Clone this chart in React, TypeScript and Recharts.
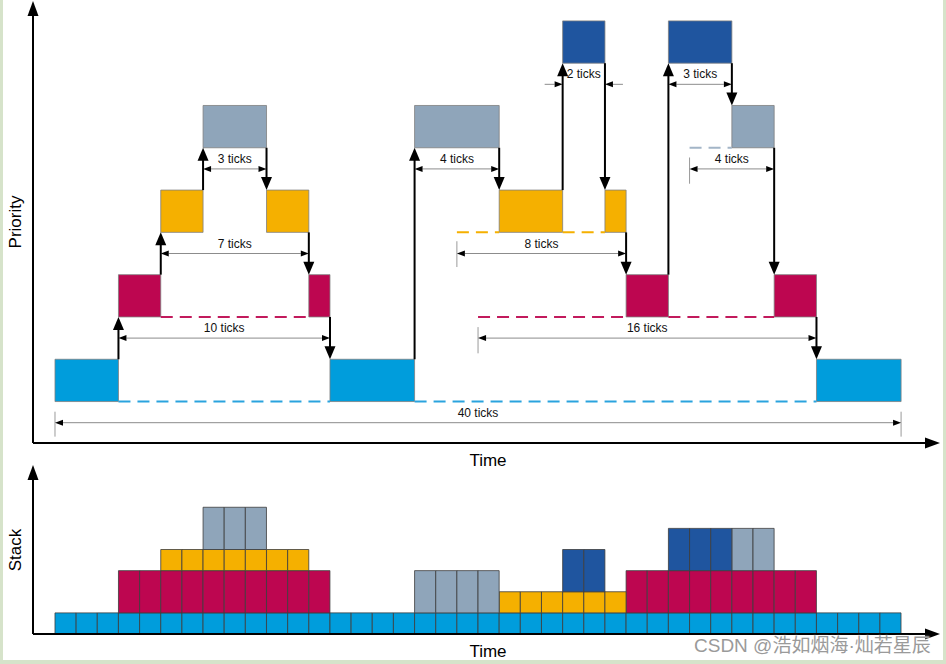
import React from 'react';
import { ComposedChart, XAxis, YAxis, ReferenceArea, ReferenceLine, Bar } from 'recharts';

// ---------- data ----------
const taskColors = ['#009ddc', '#bd0650', '#f5b000', '#8fa5ba', '#1f559f'];
const waitColors = ['#2aa3de', '#c21a5c', '#f5b000', '#a3b5c7', '#1f559f'];

// run intervals [start, end] in ticks, per task (priority level 0..4)
const blueRuns = [[0, 3], [13, 17], [36, 40]];
const redRuns = [[3, 5], [12, 13], [27, 29], [34, 36]];
const yellowRuns = [[5, 7], [10, 12], [21, 24], [26, 27]];
const grayRuns = [[7, 10], [17, 21], [32, 34]];
const darkRuns = [[24, 26], [29, 32]];

// preempted (dashed) intervals
const blueWait = [[3, 13], [17, 36]];
const redWait = [[5, 12], [20, 27], [29, 34]];
const yellowWait = [[19, 21], [24, 26]];
const grayWait = [[30, 32]];
const darkWait: number[][] = [];

// context switches
const switchTicks = [3, 5, 7, 10, 12, 13, 17, 21, 24, 26, 27, 29, 32, 34, 36];
const switchFrom = [0, 1, 2, 3, 2, 1, 0, 3, 2, 4, 2, 1, 4, 3, 1];
const switchTo = [1, 2, 3, 2, 1, 0, 3, 2, 4, 2, 1, 4, 3, 1, 0];

// tick span annotations
const spanLabels = ['3 ticks', '7 ticks', '10 ticks', '40 ticks', '4 ticks', '8 ticks', '16 ticks', '2 ticks', '3 ticks', '4 ticks'];
const spanFrom = [7, 5, 3, 0, 17, 19, 20, 24, 29, 30];
const spanTo = [10, 12, 13, 40, 21, 27, 36, 26, 32, 34];
const spanLevel = [5.5, 3.5, 1.5, -0.5, 5.5, 3.5, 1.5, 7.5, 7.5, 5.5];
const spanInward = [false, false, false, false, false, false, false, true, false, false];

// extension lines
const extX = [0, 40, 20, 19, 30];
const extTop = [-0.24, -0.24, 1.76, 3.79, 5.77];
const extBottom = [-0.83, -0.83, 1.14, 3.18, 5.15];

// stack chart (per tick 0..39)
const stackTicks = [0, 1, 2, 3, 4, 5, 6, 7, 8, 9, 10, 11, 12, 13, 14, 15, 16, 17, 18, 19, 20, 21, 22, 23, 24, 25, 26, 27, 28, 29, 30, 31, 32, 33, 34, 35, 36, 37, 38, 39];
const blueStack = [1, 1, 1, 1, 1, 1, 1, 1, 1, 1, 1, 1, 1, 1, 1, 1, 1, 1, 1, 1, 1, 1, 1, 1, 1, 1, 1, 1, 1, 1, 1, 1, 1, 1, 1, 1, 1, 1, 1, 1];
const redStack = [0, 0, 0, 2, 2, 2, 2, 2, 2, 2, 2, 2, 2, 0, 0, 0, 0, 0, 0, 0, 0, 0, 0, 0, 0, 0, 0, 2, 2, 2, 2, 2, 2, 2, 2, 2, 0, 0, 0, 0];
const yellowStack = [0, 0, 0, 0, 0, 1, 1, 1, 1, 1, 1, 1, 0, 0, 0, 0, 0, 0, 0, 0, 0, 1, 1, 1, 1, 1, 1, 0, 0, 0, 0, 0, 0, 0, 0, 0, 0, 0, 0, 0];
const grayStack = [0, 0, 0, 0, 0, 0, 0, 2, 2, 2, 0, 0, 0, 0, 0, 0, 0, 2, 2, 2, 2, 0, 0, 0, 0, 0, 0, 0, 0, 0, 0, 0, 2, 2, 0, 0, 0, 0, 0, 0];
const darkStack = [0, 0, 0, 0, 0, 0, 0, 0, 0, 0, 0, 0, 0, 0, 0, 0, 0, 0, 0, 0, 0, 0, 0, 0, 2, 2, 0, 0, 0, 2, 2, 2, 0, 0, 0, 0, 0, 0, 0, 0];

// ---------- layout constants ----------
const X_DOMAIN: [number, number] = [-1.04, 41.84];
const TOP_Y: [number, number] = [-0.98, 9.47];
const BOT_Y: [number, number] = [0, 8];
const PLOT_LEFT = 33;
const PLOT_RIGHT = 6;
const CELL_PX = (946 - PLOT_LEFT - PLOT_RIGHT) / (X_DOMAIN[1] - X_DOMAIN[0]);
const FONT = '"Liberation Sans", Arial, sans-serif';

const runsByTask = [blueRuns, redRuns, yellowRuns, grayRuns, darkRuns];
const waitsByTask = [blueWait, redWait, yellowWait, grayWait, darkWait];
const stackKeys = ['blue', 'red', 'yellow', 'gray', 'dark'];

const stackRows = stackTicks.map((t, i) => ({
  t: t + 0.5,
  blue: blueStack[i],
  red: redStack[i],
  yellow: yellowStack[i],
  gray: grayStack[i],
  dark: darkStack[i],
}));

// ---------- shapes ----------
function arrowHead(x2: number, y2: number, ux: number, uy: number, len: number, w: number) {
  const bx = x2 - ux * len;
  const by = y2 - uy * len;
  const px = -uy;
  const py = ux;
  return `${x2},${y2} ${bx + (px * w) / 2},${by + (py * w) / 2} ${bx - (px * w) / 2},${by - (py * w) / 2}`;
}

const Arrow = (p: any) => {
  const { x1, y1, x2, y2, width = 2, head = 12, headW = 10 } = p;
  const dx = x2 - x1;
  const dy = y2 - y1;
  const len = Math.hypot(dx, dy) || 1;
  const ux = dx / len;
  const uy = dy / len;
  return (
    <g>
      <line x1={x1} y1={y1} x2={x2 - ux * (head - 1)} y2={y2 - uy * (head - 1)} stroke="#000" strokeWidth={width} />
      <polygon points={arrowHead(x2, y2, ux, uy, head, headW)} fill="#000" />
    </g>
  );
};

const Dim = (p: any) => {
  const { x1, y1, x2, label, inward } = p;
  const y = y1;
  const head = 8;
  const hw = 6;
  const mid = (x1 + x2) / 2;
  const text = (
    <text x={mid} y={y - 6} textAnchor="middle" fontSize={12} fontFamily={FONT} fill="#111">
      {label}
    </text>
  );
  if (inward) {
    const over = 18;
    return (
      <g>
        <line x1={x1 - over} y1={y} x2={x1 - head} y2={y} stroke="#8c8c8c" strokeWidth={1} />
        <polygon points={arrowHead(x1, y, 1, 0, head, hw)} fill="#000" />
        <line x1={x2 + over} y1={y} x2={x2 + head} y2={y} stroke="#8c8c8c" strokeWidth={1} />
        <polygon points={arrowHead(x2, y, -1, 0, head, hw)} fill="#000" />
        {text}
      </g>
    );
  }
  return (
    <g>
      <line x1={x1 + head} y1={y} x2={x2 - head} y2={y} stroke="#8c8c8c" strokeWidth={1} />
      <polygon points={arrowHead(x1, y, -1, 0, head, hw)} fill="#000" />
      <polygon points={arrowHead(x2, y, 1, 0, head, hw)} fill="#000" />
      {text}
    </g>
  );
};

const Ext = (p: any) => <line x1={p.x1} y1={p.y1} x2={p.x2} y2={p.y2} stroke="#9a9a9a" strokeWidth={1} />;

// ---------- charts ----------
function TopChart() {
  const boxes: any[] = [];
  runsByTask.forEach((runs, lvl) =>
    runs.forEach(([a, b], j) =>
      boxes.push(
        <ReferenceArea
          key={`box-${lvl}-${j}`}
          x1={a}
          x2={b}
          y1={2 * lvl}
          y2={2 * lvl + 1}
          fill={taskColors[lvl]}
          fillOpacity={1}
          stroke="#7f7f7f"
          strokeWidth={0.8}
          ifOverflow="visible"
        />
      )
    )
  );
  const waits: any[] = [];
  waitsByTask.forEach((ws, lvl) =>
    ws.forEach(([a, b], j) =>
      waits.push(
        <ReferenceLine
          key={`wait-${lvl}-${j}`}
          segment={[{ x: a, y: 2 * lvl }, { x: b, y: 2 * lvl }]}
          stroke={waitColors[lvl]}
          strokeWidth={2}
          strokeDasharray="12 7"
          ifOverflow="visible"
        />
      )
    )
  );
  const switches = switchTicks.map((t, i) => {
    const f = switchFrom[i];
    const to = switchTo[i];
    const up = to > f;
    const ya = up ? 2 * f + 1 : 2 * f;
    const yb = up ? 2 * to : 2 * to + 1;
    return (
      <ReferenceLine
        key={`sw-${i}`}
        segment={[{ x: t, y: ya }, { x: t, y: yb }]}
        ifOverflow="visible"
        shape={(p: any) => <Arrow {...p} width={2} head={13} headW={11} />}
      />
    );
  });
  const dims = spanLabels.map((lab, i) => (
    <ReferenceLine
      key={`dim-${i}`}
      segment={[{ x: spanFrom[i], y: spanLevel[i] }, { x: spanTo[i], y: spanLevel[i] }]}
      ifOverflow="visible"
      shape={(p: any) => <Dim {...p} label={lab} inward={spanInward[i]} />}
    />
  ));
  const exts = extX.map((x, i) => (
    <ReferenceLine
      key={`ext-${i}`}
      segment={[{ x, y: extTop[i] }, { x, y: extBottom[i] }]}
      ifOverflow="visible"
      shape={(p: any) => <Ext {...p} />}
    />
  ));
  return (
    <ComposedChart width={946} height={470} data={[]} margin={{ top: 1, right: PLOT_RIGHT, bottom: 27, left: PLOT_LEFT }}>
      <XAxis type="number" dataKey="t" domain={X_DOMAIN} allowDataOverflow hide />
      <YAxis type="number" domain={TOP_Y} allowDataOverflow hide />
      {exts}
      {waits}
      {boxes}
      {dims}
      {switches}
      <ReferenceLine
        segment={[{ x: X_DOMAIN[0], y: TOP_Y[0] }, { x: X_DOMAIN[0], y: TOP_Y[1] }]}
        ifOverflow="visible"
        shape={(p: any) => <Arrow {...p} width={2} head={15} headW={11} />}
      />
      <ReferenceLine
        segment={[{ x: X_DOMAIN[0], y: TOP_Y[0] }, { x: X_DOMAIN[1], y: TOP_Y[0] }]}
        ifOverflow="visible"
        shape={(p: any) => <Arrow {...p} width={2} head={15} headW={11} />}
      />
    </ComposedChart>
  );
}

function BottomChart() {
  return (
    <ComposedChart
      width={946}
      height={204}
      data={stackRows}
      margin={{ top: 5, right: PLOT_RIGHT, bottom: 30, left: PLOT_LEFT }}
      barCategoryGap={0}
      barGap={0}
    >
      <XAxis type="number" dataKey="t" domain={X_DOMAIN} allowDataOverflow hide />
      <YAxis type="number" domain={BOT_Y} allowDataOverflow hide />
      {stackKeys.map((k, i) => (
        <Bar
          key={k}
          dataKey={k}
          stackId="s"
          fill={taskColors[i]}
          stroke="#3c3c3c"
          strokeWidth={0.8}
          barSize={CELL_PX - 0.05}
          isAnimationActive={false}
        />
      ))}
      <ReferenceLine
        segment={[{ x: X_DOMAIN[0], y: BOT_Y[0] }, { x: X_DOMAIN[0], y: BOT_Y[1] }]}
        ifOverflow="visible"
        shape={(p: any) => <Arrow {...p} width={2} head={15} headW={11} />}
      />
      <ReferenceLine
        segment={[{ x: X_DOMAIN[0], y: BOT_Y[0] }, { x: X_DOMAIN[1], y: BOT_Y[0] }]}
        ifOverflow="visible"
        shape={(p: any) => <Arrow {...p} width={2} head={15} headW={11} />}
      />
    </ComposedChart>
  );
}

const labelBase: React.CSSProperties = {
  position: 'absolute',
  fontFamily: FONT,
  fontSize: 17,
  color: '#000',
  whiteSpace: 'nowrap',
  lineHeight: 1,
  transform: 'translate(-50%, -50%)',
};

export default function App() {
  const border = '#d6e3ca';
  return (
    <div style={{ position: 'absolute', left: 0, top: 0, width: 946, height: 664, background: '#fff', overflow: 'hidden' }}>
      <div style={{ position: 'absolute', left: 0, top: 0 }}>
        <TopChart />
      </div>
      <div style={{ position: 'absolute', left: 0, top: 460 }}>
        <BottomChart />
      </div>
      <div style={{ ...labelBase, left: 15, top: 222, transform: 'translate(-50%, -50%) rotate(-90deg)' }}>Priority</div>
      <div style={{ ...labelBase, left: 488, top: 460 }}>Time</div>
      <div style={{ ...labelBase, left: 15, top: 550, transform: 'translate(-50%, -50%) rotate(-90deg)' }}>Stack</div>
      <div style={{ ...labelBase, left: 488, top: 651 }}>Time</div>
      <div
        style={{
          position: 'absolute',
          left: 694,
          top: 645,
          transform: 'translateY(-50%)',
          fontFamily: '"Liberation Sans", "Noto Sans CJK SC", sans-serif',
          fontSize: 19,
          color: '#9a9a9a',
          whiteSpace: 'nowrap',
          lineHeight: 1,
          textShadow: '0 0 2px #fff',
        }}
      >
        CSDN @浩如烟海·灿若星辰
      </div>
      <div style={{ position: 'absolute', left: 0, top: 0, width: 3, height: 664, background: border }} />
      <div style={{ position: 'absolute', right: 0, top: 0, width: 3, height: 664, background: border }} />
      <div style={{ position: 'absolute', left: 0, bottom: 0, width: 946, height: 4, background: border }} />
    </div>
  );
}
